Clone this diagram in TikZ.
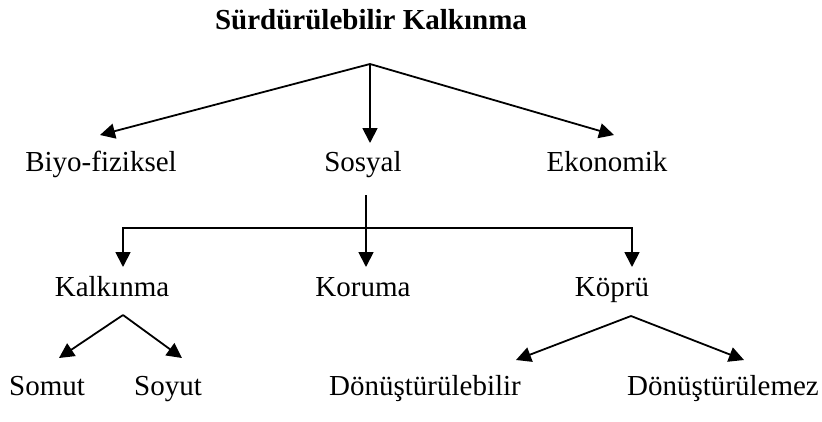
\documentclass[tikz,border=0pt]{standalone}
\usepackage{fontspec}
\setmainfont{Liberation Serif}
\usetikzlibrary{arrows.meta}

\tikzset{
  lbl/.style={anchor=base, inner sep=0pt, font=\fontsize{29}{34}\selectfont},
  ttl/.style={lbl, font=\fontsize{29}{34}\selectfont\bfseries},
  arr/.style={line width=1.8pt, -{Triangle[length=15pt,width=15pt]}},
  ln/.style={line width=1.8pt}
}

\begin{document}
\begin{tikzpicture}[x=1pt,y=-1pt]
  \useasboundingbox (0,0) rectangle (822,421);
  \node[ttl] (title) at (371,29) {Sürdürülebilir Kalkınma};
  \node[lbl] (bio) at (101,171) {Biyo-fiziksel};
  \node[lbl] (sos) at (363,171) {Sosyal};
  \node[lbl] (eko) at (607,171) {Ekonomik};
  \node[lbl] (kalk) at (112,296) {Kalkınma};
  \node[lbl] (kor) at (363,296) {Koruma};
  \node[lbl] (kop) at (612,296) {Köprü};
  \node[lbl] (som) at (47,395) {Somut};
  \node[lbl] (soy) at (168,395) {Soyut};
  \node[lbl] (don1) at (425,395) {Dönüştürülebilir};
  \node[lbl] (don2) at (723,395) {Dönüştürülemez};
  % branch points and arrow ends
  \coordinate (top) at (370,64);
  \coordinate (tbio) at (100,135);
  \coordinate (tsos) at (370,143);
  \coordinate (teko) at (614,135);
  \coordinate (sdown) at (366,195);
  \coordinate (sbar) at (366,228);
  \coordinate (bl) at (123,228);
  \coordinate (br) at (632,228);
  \coordinate (tkalk) at (123,267);
  \coordinate (tkor) at (366,267);
  \coordinate (tkop) at (632,267);
  \coordinate (ktop) at (123,315);
  \coordinate (tsom) at (59,358);
  \coordinate (tsoy) at (182,358);
  \coordinate (ptop) at (631,316);
  \coordinate (tdon1) at (516,360);
  \coordinate (tdon2) at (744,360);
  % Draw the tree
  \draw[arr] (top) -- (tbio);
  \draw[arr] (top) -- (tsos);
  \draw[arr] (top) -- (teko);
  \draw[ln] (sdown) -- (sbar);
  \draw[arr] (sbar) -- (bl) -- (tkalk);
  \draw[arr] (sbar) -- (br) -- (tkop);
  \draw[arr] (sbar) -- (tkor);
  \draw[arr] (ktop) -- (tsom);
  \draw[arr] (ktop) -- (tsoy);
  \draw[arr] (ptop) -- (tdon1);
  \draw[arr] (ptop) -- (tdon2);
\end{tikzpicture}
\end{document}
